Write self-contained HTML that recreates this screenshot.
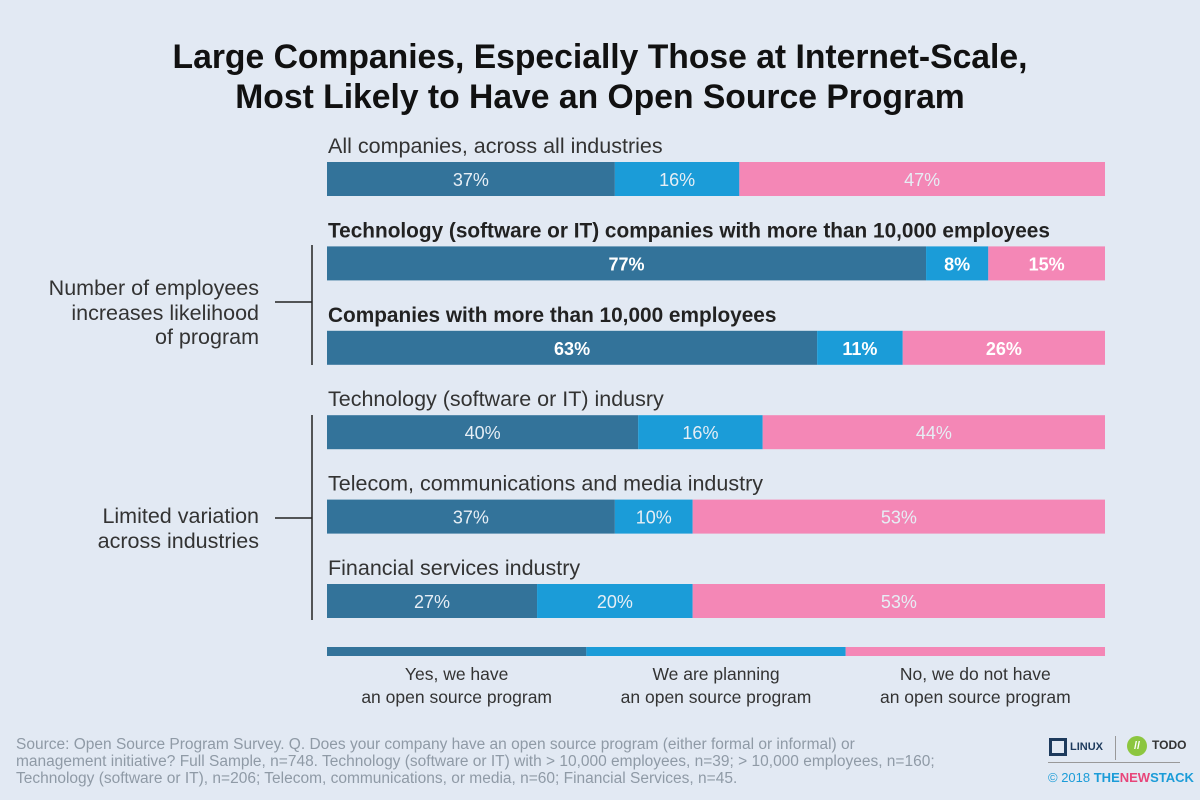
<!DOCTYPE html>
<html><head><meta charset="utf-8"><style>
body{margin:0;width:1200px;height:800px;background:#e2e9f3;font-family:"Liberation Sans",sans-serif;position:relative;overflow:hidden;color:#333}
.t{position:absolute;white-space:nowrap}
</style></head><body>
<div class="t" style="left:0;width:1200px;top:37px;text-align:center;font-size:34px;font-weight:bold;color:#111;line-height:40px;transform:scaleX(0.99)">Large Companies, Especially Those at Internet-Scale,<br>Most Likely to Have an Open Source Program</div>
<svg id="c" width="1200" height="800" style="position:absolute;left:0;top:0"></svg>
<div class="t" style="right:941px;top:276px;text-align:right;font-size:21.5px;line-height:24.5px">Number of employees<br>increases likelihood<br>of program</div>
<div class="t" style="right:941px;top:504px;text-align:right;font-size:21.5px;line-height:24.5px">Limited variation<br>across industries</div>
<div class="t" style="left:16px;top:736px;font-size:15.5px;line-height:17px;color:#8f9aa6">Source: Open Source Program Survey. Q. Does your company have an open source program (either formal or informal) or<br>management initiative? Full Sample, n=748. Technology (software or IT) with &gt; 10,000 employees, n=39; &gt; 10,000 employees, n=160;<br>Technology (software or IT), n=206; Telecom, communications, or media, n=60; Financial Services, n=45.</div>
<div class="t" style="left:1049px;top:738px;font-size:11px;font-weight:bold;color:#1d3a5c;line-height:10px"><span style="display:inline-block;width:18px;height:18px;border:3px solid #1d3a5c;box-sizing:border-box;vertical-align:middle;margin-right:3px"></span>LINUX</div>
<div class="t" style="left:1127px;top:736px;font-size:12px;font-weight:bold;color:#333"><span style="display:inline-block;width:20px;height:20px;border-radius:50%;background:#8cc63f;color:#fff;text-align:center;line-height:20px;font-size:11px;margin-right:5px">//</span>TODO</div>
<div class="t" style="left:1048px;top:770px;font-size:13px;color:#1b9cd8">© 2018 <b>THE<span style="color:#e8457a">NEW</span>STACK</b></div>
<div style="position:absolute;left:1048px;top:762px;width:132px;height:1px;background:#999"></div>
<div style="position:absolute;left:1115px;top:736px;width:1px;height:24px;background:#999"></div>
<script>
const categories=["All companies, across all industries","Technology (software or IT) companies with more than 10,000 employees","Companies with more than 10,000 employees","Technology (software or IT) indusry","Telecom, communications and media industry","Financial services industry"];
const yesValues=[37,77,63,40,37,27];
const planningValues=[16,8,11,16,10,20];
const noValues=[47,15,26,44,53,53];
const boldRows=[false,true,true,false,false,false];
const legendLabels=[["Yes, we have","an open source program"],["We are planning","an open source program"],["No, we do not have","an open source program"]];
const colors=["#33739a","#1b9cd8","#f487b6"];
const NS="http://www.w3.org/2000/svg";
const svg=document.getElementById('c');
const x0=327,x1=1105;
const xs=v=>x0+(x1-x0)*v/100;
const rowY=i=>162+i*84.4;
function mk(t,a){const e=document.createElementNS(NS,t);for(const k in a)e.setAttribute(k,a[k]);svg.appendChild(e);return e;}
categories.forEach((c,i)=>{
  const y=rowY(i);
  const lab=mk('text',{x:x0+1,y:y-9,'font-size':boldRows[i]?20.8:21.5,'font-weight':boldRows[i]?'bold':'normal',fill:boldRows[i]?'#222':'#333','font-family':'Liberation Sans'});
  lab.textContent=c;
  
  
  const vals=[yesValues[i],planningValues[i],noValues[i]];
  let acc=0;
  vals.forEach((v,j)=>{
    const r=mk('rect',{x:xs(acc),y:y,width:xs(acc+v)-xs(acc),height:34,fill:colors[j]});
    
    
    const t=mk('text',{x:(xs(acc)+xs(acc+v))/2,y:y+24,'text-anchor':'middle','font-size':18,'font-weight':boldRows[i]?'bold':'normal',fill:boldRows[i]?'#fff':'#e6eef5','font-family':'Liberation Sans'});
    t.textContent=v+'%';
    
    
    acc+=v;
  });
});
[[312,245,365,302],[312,415,620,518]].forEach(b=>{
  const l1=mk('line',{x1:b[0],y1:b[1],x2:b[0],y2:b[2],stroke:'#222','stroke-width':1.5});
  
  
  const l2=mk('line',{x1:275,y1:b[3],x2:b[0],y2:b[3],stroke:'#222','stroke-width':1.5});
  
  
});
legendLabels.forEach((l,j)=>{
  const w=(x1-x0)/3;
  const r=mk('rect',{x:x0+j*w,y:647,width:w,height:9,fill:colors[j]});
  
  
  l.forEach((s,k)=>{
    const t=mk('text',{x:x0+j*w+w/2,y:680+k*23,'text-anchor':'middle','font-size':17.5,fill:'#333','font-family':'Liberation Sans'});
    t.textContent=s;
    
    
  });
});
</script>
</body></html>
